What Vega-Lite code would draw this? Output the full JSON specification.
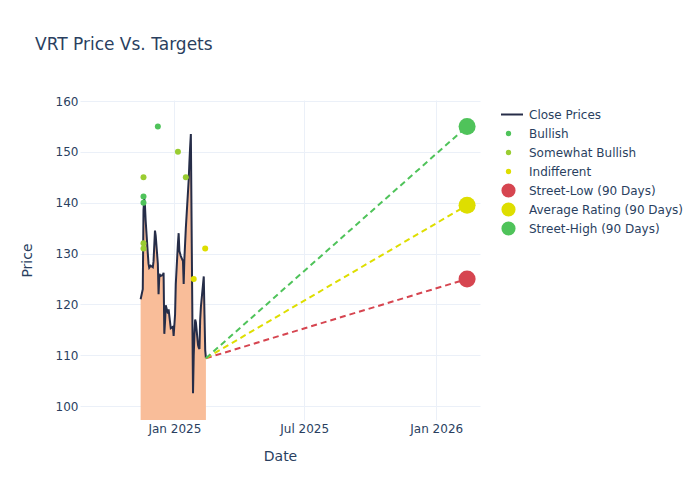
{
  "$schema": "https://vega.github.io/schema/vega-lite/v6.json",
  "width": 400,
  "height": 320,
  "autosize": {"type": "none"},
  "padding": {"left": 80, "top": 100, "right": 220, "bottom": 80},
  "background": "white",
  "title": {"text": "VRT Price Vs. Targets", "anchor": "start", "frame": "group", "dx": -45, "offset": 41, "font": "DejaVu Sans", "fontSize": 17, "fontWeight": "normal", "color": "#2a3f5f"},
  "config": {
    "view": {"stroke": null},
    "font": "DejaVu Sans",
    "axis": {"domain": false, "ticks": false, "gridColor": "#ebf0f8", "gridWidth": 1, "labelFont": "DejaVu Sans", "labelFontSize": 12, "labelColor": "#2a3f5f", "titleFont": "DejaVu Sans", "titleFontSize": 14, "titleFontWeight": "normal", "titleColor": "#2a3f5f"}
  },
  "datasets": {
    "close": [
      {"date": "2024-11-15", "price": 121},
      {"date": "2024-11-18", "price": 123},
      {"date": "2024-11-19", "price": 138.5},
      {"date": "2024-11-20", "price": 140.8},
      {"date": "2024-11-21", "price": 139.5},
      {"date": "2024-11-22", "price": 136.5},
      {"date": "2024-11-25", "price": 130},
      {"date": "2024-11-26", "price": 128},
      {"date": "2024-11-27", "price": 127.2},
      {"date": "2024-11-29", "price": 127.6},
      {"date": "2024-12-02", "price": 127.3},
      {"date": "2024-12-03", "price": 128.5},
      {"date": "2024-12-04", "price": 131.5},
      {"date": "2024-12-05", "price": 134.5},
      {"date": "2024-12-06", "price": 133.5},
      {"date": "2024-12-09", "price": 128},
      {"date": "2024-12-10", "price": 122},
      {"date": "2024-12-11", "price": 125.5},
      {"date": "2024-12-12", "price": 125.8},
      {"date": "2024-12-13", "price": 125.6},
      {"date": "2024-12-16", "price": 125.8},
      {"date": "2024-12-17", "price": 126.2},
      {"date": "2024-12-18", "price": 114.2},
      {"date": "2024-12-19", "price": 116.5},
      {"date": "2024-12-20", "price": 119.8},
      {"date": "2024-12-23", "price": 118.2},
      {"date": "2024-12-24", "price": 119},
      {"date": "2024-12-26", "price": 116.5},
      {"date": "2024-12-27", "price": 115.3},
      {"date": "2024-12-30", "price": 115.6},
      {"date": "2024-12-31", "price": 113.8},
      {"date": "2025-01-02", "price": 118},
      {"date": "2025-01-03", "price": 124},
      {"date": "2025-01-06", "price": 132},
      {"date": "2025-01-07", "price": 134},
      {"date": "2025-01-08", "price": 130.5},
      {"date": "2025-01-10", "price": 129.5},
      {"date": "2025-01-13", "price": 128.5},
      {"date": "2025-01-14", "price": 124},
      {"date": "2025-01-15", "price": 129},
      {"date": "2025-01-16", "price": 132},
      {"date": "2025-01-17", "price": 135},
      {"date": "2025-01-21", "price": 144.5},
      {"date": "2025-01-22", "price": 148},
      {"date": "2025-01-23", "price": 151},
      {"date": "2025-01-24", "price": 153.5},
      {"date": "2025-01-27", "price": 102.5},
      {"date": "2025-01-28", "price": 110},
      {"date": "2025-01-29", "price": 114},
      {"date": "2025-01-30", "price": 117},
      {"date": "2025-01-31", "price": 116.5},
      {"date": "2025-02-03", "price": 112},
      {"date": "2025-02-04", "price": 111.5},
      {"date": "2025-02-05", "price": 111.2},
      {"date": "2025-02-06", "price": 117},
      {"date": "2025-02-07", "price": 119.5},
      {"date": "2025-02-10", "price": 124},
      {"date": "2025-02-11", "price": 125.5},
      {"date": "2025-02-12", "price": 118},
      {"date": "2025-02-13", "price": 111},
      {"date": "2025-02-14", "price": 109.4}
    ],
    "dashed": [
      {"series": "Street-Low (90 Days)", "date": "2025-02-14", "price": 109.4},
      {"series": "Street-Low (90 Days)", "date": "2026-02-13", "price": 125},
      {"series": "Average Rating (90 Days)", "date": "2025-02-14", "price": 109.4},
      {"series": "Average Rating (90 Days)", "date": "2026-02-13", "price": 139.5},
      {"series": "Street-High (90 Days)", "date": "2025-02-14", "price": 109.4},
      {"series": "Street-High (90 Days)", "date": "2026-02-13", "price": 155}
    ],
    "ratings": [
      {"series": "Bullish", "date": "2024-11-19", "price": 141.2},
      {"series": "Bullish", "date": "2024-11-19", "price": 140},
      {"series": "Bullish", "date": "2024-12-09", "price": 155},
      {"series": "Somewhat Bullish", "date": "2024-11-19", "price": 145},
      {"series": "Somewhat Bullish", "date": "2024-11-19", "price": 132},
      {"series": "Somewhat Bullish", "date": "2024-11-19", "price": 131},
      {"series": "Somewhat Bullish", "date": "2025-01-06", "price": 150},
      {"series": "Somewhat Bullish", "date": "2025-01-17", "price": 145},
      {"series": "Indifferent", "date": "2025-01-28", "price": 125},
      {"series": "Indifferent", "date": "2025-02-13", "price": 131}
    ],
    "targets": [
      {"series": "Street-Low (90 Days)", "date": "2026-02-13", "price": 125},
      {"series": "Average Rating (90 Days)", "date": "2026-02-13", "price": 139.5},
      {"series": "Street-High (90 Days)", "date": "2026-02-13", "price": 155}
    ]
  },
  "encoding": {
    "x": {
      "field": "date", "type": "temporal",
      "scale": {"type": "utc", "domain": [{"year": 2024, "month": 8, "date": 22, "hours": 12, "utc": true}, {"year": 2026, "month": 3, "date": 3, "utc": true}]},
      "axis": {
        "title": "Date",
        "values": [{"year": 2025, "month": 1, "date": 1, "utc": true}, {"year": 2025, "month": 7, "date": 1, "utc": true}, {"year": 2026, "month": 1, "date": 1, "utc": true}],
        "labelExpr": "utcFormat(datum.value, '%b %Y')",
        "labelPadding": 3,
        "titleX": 200, "titleY": 36, "titleBaseline": "middle", "titleAlign": "center"
      }
    },
    "y": {
      "field": "price", "type": "quantitative",
      "scale": {"domain": [97.25, 160.2], "nice": false, "zero": false},
      "axis": {
        "title": "Price",
        "values": [100, 110, 120, 130, 140, 150, 160],
        "labelPadding": 2,
        "titleX": -53, "titleY": 160, "titleAngle": -90, "titleBaseline": "middle", "titleAlign": "center"
      }
    },
    "color": {
      "field": "series", "type": "nominal",
      "scale": {
        "domain": ["Close Prices", "Bullish", "Somewhat Bullish", "Indifferent", "Street-Low (90 Days)", "Average Rating (90 Days)", "Street-High (90 Days)"],
        "range": ["#262d48", "#4fc35a", "#9acd32", "#dede00", "#d64550", "#dede00", "#4fc35a"]
      },
      "legend": {
        "orient": "none", "legendX": 421, "legendY": 5, "title": null,
        "labelFont": "DejaVu Sans", "labelFontSize": 12, "labelColor": "#2a3f5f",
        "clipHeight": 19, "rowPadding": 0, "labelOffset": 13, "padding": 0, "symbolOffset": 0,
        "encode": {
          "symbols": {
            "update": {
              "shape": {"signal": "(datum.value === 'Close Prices') ? 'stroke' : 'circle'"},
              "size": {"signal": "((datum.value === 'Close Prices') ? 841 : ((indexof(['Bullish','Somewhat Bullish','Indifferent'], datum.value) >= 0) ? 28 : 200))"},
              "fill": {"scale": "color", "field": "value"},
              "stroke": {"scale": "color", "field": "value"},
              "strokeWidth": {"signal": "((datum.value === 'Close Prices') ? 2 : 0)"},
              "opacity": {"value": 1}
            }
          }
        }
      }
    }
  },
  "layer": [
    {
      "data": {"name": "close"},
      "mark": {"type": "area", "color": "#f9bd99", "opacity": 1},
      "encoding": {"y2": {"datum": 97.25}, "color": null}
    },
    {
      "data": {"name": "close"},
      "mark": {"type": "line", "color": "#262d48", "strokeWidth": 2},
      "encoding": {"color": null}
    },
    {
      "data": {"name": "dashed"},
      "mark": {"type": "line", "strokeDash": [6, 4], "strokeWidth": 2},
      "encoding": {"detail": {"field": "series"}}
    },
    {
      "data": {"name": "ratings"},
      "mark": {"type": "point", "filled": true, "opacity": 1, "shape": "circle", "size": 36}
    },
    {
      "data": {"name": "targets"},
      "mark": {"type": "point", "filled": true, "opacity": 1, "shape": "circle", "size": 290}
    }
  ]
}
